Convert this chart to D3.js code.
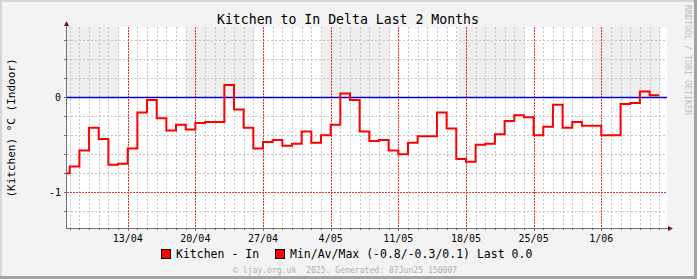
<!DOCTYPE html>
<html>
<head>
<meta charset="utf-8">
<script src="https://cdn.jsdelivr.net/npm/d3@7"></script>
<style>
  body { margin: 0; background: #f3f3f3; }
  svg { display: block; }
  text { font-family: "DejaVu Sans Mono", monospace; white-space: pre; }
</style>
</head>
<body>
<div id="chart"></div>
<script>
// daily delta values, one per day starting at firstDay
const firstDay = "2025-04-06";
const deltaValues = [
  -0.80, -0.73, -0.56, -0.32, -0.44, -0.71, -0.70,
  -0.54, -0.16, -0.03, -0.22, -0.35, -0.29, -0.34,
  -0.27, -0.26, -0.26, 0.13, -0.13, -0.32, -0.54,
  -0.47, -0.45, -0.51, -0.49, -0.36, -0.48, -0.40,
  -0.29, 0.04, -0.03, -0.36, -0.46, -0.45, -0.56,
  -0.60, -0.48, -0.41, -0.41, -0.16, -0.33, -0.65,
  -0.68, -0.50, -0.49, -0.39, -0.25, -0.19, -0.21,
  -0.40, -0.31, -0.08, -0.32, -0.26, -0.30, -0.30,
  -0.40, -0.40, -0.07, -0.06, 0.06, 0.02
];

const timeStart = "2025-04-06T17:15:00Z";
const timeEnd = "2025-06-07T19:15:00Z";

const weekTicks = ["2025-04-13", "2025-04-20", "2025-04-27", "2025-05-04",
                   "2025-05-11", "2025-05-18", "2025-05-25", "2025-06-01"];
const weekLabels = ["13/04", "20/04", "27/04", "4/05", "11/05", "18/05", "25/05", "1/06"];

const yMajorTicks = [0, -1];
const yMajorLabels = ["0", "-1"];
const yMinorTicks = [0.6, 0.4, 0.2, -0.2, -0.4, -0.6, -0.8, -1.2];

// shaded alternate weeks (start of each band)
const shadeStarts = ["2025-04-05T02:30:00Z", "2025-04-19T02:30:00Z", "2025-05-03T02:30:00Z",
                     "2025-05-17T02:30:00Z", "2025-05-31T02:30:00Z"];

const titleText = "Kitchen to In Delta Last 2 Months";
const yAxisLabel = "(Kitchen) °C (Indoor)";
const legendItems = ["Kitchen - In", "Min/Av/Max (-0.8/-0.3/0.1) Last 0.0"];
const footerText = "© ljay.org.uk  2025. Generated: 07Jun25 150007";
const sideText = "RRDTOOL / TOBI OETIKER";

const W = 697, H = 279;
const plot = { left: 67, right: 667, top: 27, bottom: 228 };

const svg = d3.select("#chart").append("svg")
    .attr("width", W)
    .attr("height", H);

// background + shaded border
svg.append("rect").attr("width", W).attr("height", H).attr("fill", "#f3f3f3");
svg.append("rect").attr("x", 0).attr("y", 0).attr("width", W).attr("height", 2).attr("fill", "#d6d6d6");
svg.append("rect").attr("x", 0).attr("y", 0).attr("width", 2).attr("height", H).attr("fill", "#d6d6d6");
svg.append("rect").attr("x", 0).attr("y", H - 3).attr("width", W).attr("height", 3).attr("fill", "#a3a3a3");
svg.append("rect").attr("x", W - 3).attr("y", 0).attr("width", 3).attr("height", H).attr("fill", "#a3a3a3");

const parseDay = d3.utcParse("%Y-%m-%d");
const x = d3.scaleUtc()
    .domain([new Date(timeStart), new Date(timeEnd)])
    .range([plot.left, plot.right]);
const y = d3.scaleLinear()
    .domain([-1.377, 0.74])
    .range([plot.bottom, plot.top]);

const px = v => Math.round(v) + 0.5;

// canvas
svg.append("rect")
    .attr("x", plot.left).attr("y", plot.top)
    .attr("width", plot.right - plot.left).attr("height", plot.bottom - plot.top)
    .attr("fill", "#ffffff");

// alternate week shading above zero
svg.append("g").selectAll("rect")
    .data(shadeStarts.map(s => new Date(s)))
    .join("rect")
    .attr("x", d => Math.max(plot.left, x(d)))
    .attr("y", y(y.domain()[1]))
    .attr("width", d => Math.min(plot.right, x(d3.utcDay.offset(d, 7))) - Math.max(plot.left, x(d)))
    .attr("height", y(0) - y(y.domain()[1]))
    .attr("fill", "#efefef");

// minor grid
const days = d3.utcDay.range(x.domain()[0], x.domain()[1]);
const grid = svg.append("g").attr("shape-rendering", "crispEdges");
grid.selectAll("line.vmin")
    .data(days)
    .join("line")
    .attr("x1", d => px(x(d))).attr("x2", d => px(x(d)))
    .attr("y1", plot.top).attr("y2", plot.bottom)
    .attr("stroke", "#c4c4c4")
    .attr("stroke-dasharray", "2,2");
grid.selectAll("line.hmin")
    .data(yMinorTicks)
    .join("line")
    .attr("x1", plot.left).attr("x2", plot.right)
    .attr("y1", d => px(y(d))).attr("y2", d => px(y(d)))
    .attr("stroke", "#c4c4c4")
    .attr("stroke-dasharray", "2,2");

// major grid
const weekDates = weekTicks.map(parseDay);
grid.selectAll("line.vmaj")
    .data(weekDates)
    .join("line")
    .attr("x1", d => px(x(d))).attr("x2", d => px(x(d)))
    .attr("y1", plot.top).attr("y2", plot.bottom)
    .attr("stroke", "#ee3030")
    .attr("stroke-dasharray", "2,1");
grid.selectAll("line.hmaj")
    .data(yMajorTicks)
    .join("line")
    .attr("x1", plot.left).attr("x2", plot.right)
    .attr("y1", d => px(y(d))).attr("y2", d => px(y(d)))
    .attr("stroke", "#ee3030")
    .attr("stroke-dasharray", "2,1");

// zero rule
svg.append("line")
    .attr("x1", plot.left).attr("x2", plot.right)
    .attr("y1", px(y(0))).attr("y2", px(y(0)))
    .attr("stroke", "#0000cc")
    .attr("stroke-width", 1.5);

// data step line
svg.append("clipPath").attr("id", "plotclip")
    .append("rect")
    .attr("x", plot.left).attr("y", plot.top)
    .attr("width", plot.right - plot.left).attr("height", plot.bottom - plot.top);

const day0 = parseDay(firstDay);
const series = deltaValues.map((v, i) => ({ t: d3.utcDay.offset(day0, i), v: v }));
series.push({ t: d3.utcDay.offset(day0, deltaValues.length), v: deltaValues[deltaValues.length - 1] });

const line = d3.line()
    .x(d => x(d.t))
    .y(d => y(d.v))
    .curve(d3.curveStepAfter);

svg.append("path")
    .datum(series)
    .attr("clip-path", "url(#plotclip)")
    .attr("fill", "none")
    .attr("stroke", "#ff0000")
    .attr("stroke-width", 2)
    .attr("d", line);

// axes
const axes = svg.append("g").attr("shape-rendering", "crispEdges");
axes.append("line")
    .attr("x1", px(plot.left - 1)).attr("x2", px(plot.left - 1))
    .attr("y1", plot.top - 4).attr("y2", plot.bottom + 1)
    .attr("stroke", "#707070");
axes.append("line")
    .attr("x1", plot.left - 1).attr("x2", plot.right + 4)
    .attr("y1", px(plot.bottom)).attr("y2", px(plot.bottom))
    .attr("stroke", "#707070");
// small ticks
axes.selectAll("line.xt")
    .data(days)
    .join("line")
    .attr("x1", d => px(x(d))).attr("x2", d => px(x(d)))
    .attr("y1", plot.bottom).attr("y2", plot.bottom + 2)
    .attr("stroke", "#707070");
axes.selectAll("line.xT")
    .data(weekDates)
    .join("line")
    .attr("x1", d => px(x(d))).attr("x2", d => px(x(d)))
    .attr("y1", plot.bottom).attr("y2", plot.bottom + 3)
    .attr("stroke", "#707070");
axes.selectAll("line.yt")
    .data(yMinorTicks.concat(yMajorTicks))
    .join("line")
    .attr("x1", plot.left - 3).attr("x2", plot.left - 1)
    .attr("y1", d => px(y(d))).attr("y2", d => px(y(d)))
    .attr("stroke", "#707070");

// arrows
svg.append("path")
    .attr("d", `M${plot.left - 3},${plot.top - 1} L${plot.left + 2},${plot.top - 1} L${plot.left - 0.5},${plot.top - 6} Z`)
    .attr("fill", "#7a1010");
svg.append("path")
    .attr("d", `M${plot.right + 1},${plot.bottom - 2} L${plot.right + 1},${plot.bottom + 3} L${plot.right + 6},${plot.bottom + 0.5} Z`)
    .attr("fill", "#7a1010");

// tick labels
svg.append("g").selectAll("text")
    .data(weekDates)
    .join("text")
    .attr("x", d => x(d))
    .attr("y", 242)
    .attr("text-anchor", "middle")
    .attr("font-size", 10)
    .attr("fill", "#000")
    .text((d, i) => weekLabels[i]);

svg.append("g").selectAll("text")
    .data(yMajorTicks)
    .join("text")
    .attr("x", 61)
    .attr("y", d => y(d) + 3.5)
    .attr("text-anchor", "end")
    .attr("font-size", 10)
    .attr("fill", "#000")
    .text((d, i) => yMajorLabels[i]);

// title
svg.append("text")
    .attr("x", 348)
    .attr("y", 24)
    .attr("text-anchor", "middle")
    .attr("font-size", 13.2)
    .attr("fill", "#000")
    .text(titleText);

// y label
svg.append("text")
    .attr("transform", "translate(15,128) rotate(-90)")
    .attr("text-anchor", "middle")
    .attr("font-size", 11)
    .attr("fill", "#000")
    .text(yAxisLabel);

// side watermark
svg.append("text")
    .attr("transform", "translate(685,5) rotate(90)")
    .attr("text-anchor", "start")
    .attr("font-size", 8.3)
    .attr("fill", "#bdbdbd")
    .text(sideText);

// legend
const legendX = [161, 275];
const legend = svg.append("g");
legendItems.forEach((label, i) => {
    legend.append("rect")
        .attr("x", legendX[i] + 0.5).attr("y", 249.5)
        .attr("width", 9).attr("height", 9)
        .attr("fill", "#ff0000")
        .attr("stroke", "#000");
    legend.append("text")
        .attr("x", legendX[i] + 15)
        .attr("y", 258)
        .attr("font-size", 11.5)
        .attr("fill", "#000")
        .text(label);
});

// footer
svg.append("text")
    .attr("x", 233)
    .attr("y", 273)
    .attr("font-size", 8.1)
    .attr("fill", "#b0b0b0")
    .text(footerText);
</script>
</body>
</html>
